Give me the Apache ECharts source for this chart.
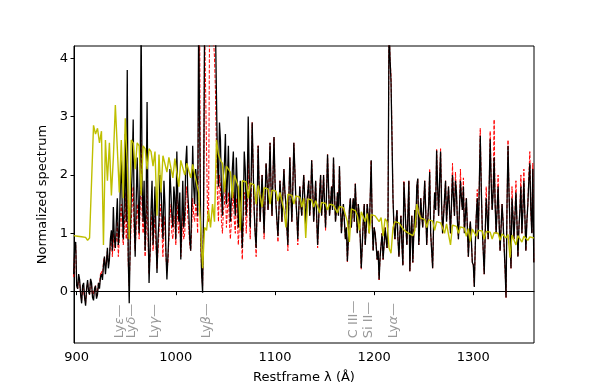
<!DOCTYPE html>
<html>
<head>
<meta charset="utf-8">
<script src="https://cdn.jsdelivr.net/npm/echarts@6/dist/echarts.min.js"></script>
<style>
    html, body {margin: 0; padding: 0; background: #fff;}
    #main {width: 594px; height: 389px;}
</style>
</head>
<body>
<div id="main"></div>
<script>
// wavelength grids (restframe, Angstrom)
var fluxStart = 897, fluxStep = 1;
var modelStart = 897, modelStep = 2;

// observed spectrum (black)
var flux = [
    0.3, 0.8, 0.85, 0.1, 0.05, 0.3, 0.2, -0.05, -0.2, 0.1,
    0.15, -0.1, -0.24, 0.05, 0.2, 0.0, -0.05, 0.22, 0.15, -0.1,
    -0.15, 0.05, 0.1, -0.12, -0.05, 0.15, 0.05, 0.25, 0.3, 0.2,
    0.45, 0.6, 0.3, 0.5, 0.75, 0.4, 0.55, 0.9, 1.05, 0.7,
    1.45, 0.9, 0.75, 1.2, 1.6, 0.8, 1.0, 1.8, 2.3, 1.4,
    0.9, 1.5, 2.7, 1.2, 3.8, 0.6, -0.2, 0.9, 1.6, 2.1,
    2.95, 1.3, 0.6, 1.5, 2.3, 1.6, 1.0, 2.0, 4.6, 1.8,
    1.2, 1.9, 0.7, 1.4, 3.25, 1.2, 0.15, 0.7, 1.4, 1.9,
    0.8, 1.3, 1.8, 1.0, 0.32, 0.9, 1.2, 2.0, 1.8, 1.3,
    0.9, 1.9, 1.5, 0.7, 0.21, 0.6, 1.0, 2.1, 1.7, 1.3,
    1.1, 1.8, 1.6, 0.9, 2.4, 1.6, 1.2, 1.7, 0.55, 1.2,
    1.9, 1.1, 1.3, 2.2, 2.5, 1.7, 1.4, 0.9, 0.7, 1.5,
    2.5, 1.8, 1.5, 2.1, 1.9, 1.3, 4.6, 4.6, 1.2, 0.3,
    -0.02, 1.5, 4.6, 5, 5, 5, 5, 5, 5, 5,
    5, 5, 4.6, 4.5, 3.3, 2.2, 1.8, 2.9, 2.6, 1.7,
    1.3, 2.0, 2.2, 2.7, 1.5, 1.9, 2.5, 1.7, 1.2, 1.6,
    2.1, 2.4, 1.6, 1.3, 2.3, 1.8, 1.1, 1.5, 1.9, 1.3,
    0.75, 1.4, 2.4, 2.1, 1.3, 1.8, 3.0, 2.0, 1.1, 2.0,
    2.9, 2.1, 1.4, 1.0, 0.75, 1.5, 2.5, 1.8, 1.2, 1.6,
    2.0, 1.5, 1.0, 1.6, 2.2, 1.9, 1.4, 1.9, 2.55, 1.8,
    1.3, 2.0, 2.65, 1.9, 1.5, 1.2, 0.95, 1.4, 1.9, 1.6,
    1.2, 1.7, 2.1, 1.7, 1.5, 1.1, 0.8, 1.6, 2.3, 1.7,
    1.2, 1.8, 2.55, 2.1, 1.6, 1.3, 0.9, 1.4, 1.8, 1.5,
    1.3, 1.7, 2.0, 1.6, 1.1, 1.5, 1.7, 1.9, 1.3, 1.6,
    2.25, 1.8, 1.2, 1.5, 1.9, 1.3, 0.8, 1.2, 1.7, 2.0,
    1.3, 1.6, 2.0, 1.5, 1.1, 1.7, 2.35, 1.8, 1.3, 1.5,
    1.8, 1.4, 2.3, 1.7, 1.2, 1.4, 1.7, 1.3, 2.15, 1.5,
    1.0, 1.3, 1.5, 1.2, 0.9, 1.1, 0.52, 0.9, 1.4, 1.6,
    1.1, 1.4, 1.6, 1.2, 1.85, 1.4, 1.0, 1.5, 1.3, 0.9,
    0.4, 0.8, 1.2, 1.5, 0.8, 1.1, 1.5, 1.3, 1.0, 1.6,
    2.25, 1.2, 0.7, 1.1, 1.0, 0.8, 0.55, 0.7, 0.21, 0.6,
    0.8, 1.0, 0.55, 0.8, 1.1, 0.9, 0.75, 1.3, 4.6, 4.0,
    3.6, 2.6, 1.6, 1.1, 0.9, 1.2, 1.4, 0.9, 0.6, 1.0,
    1.3, 0.8, 0.45, 1.88, 1.5, 1.1, 0.8, 1.3, 1.9, 0.35,
    1.0, 1.3, 0.5, 1.0, 1.4, 1.1, 1.8, 1.94, 0.8, 1.2,
    1.6, 1.3, 1.1, 1.5, 1.9, 1.4, 0.8, 1.2, 1.5, 2.05,
    1.0, 0.7, 0.4, 1.2, 1.7, 1.4, 2.42, 1.8, 1.3, 1.9,
    2.4, 1.5, 1.0, 1.3, 1.6, 1.9, 1.2, 1.5, 1.8, 1.4,
    1.0, 1.5, 2.0, 1.6, 1.3, 1.9, 1.7, 1.2, 0.9, 1.4,
    1.9, 1.6, 1.4, 1.8, 1.0, 1.3, 1.6, 1.1, 0.6, 1.0,
    1.2, 0.9, 0.5, 0.46, 0.08, 0.8, 1.3, 1.6, 0.9, 1.8,
    2.67, 1.8, 1.1, 0.7, 0.3, 1.0, 1.6, 1.3, 0.9, 1.8,
    2.61, 1.9, 1.4, 1.7, 2.3, 1.5, 1.0, 1.4, 1.8, 1.2,
    0.7, 1.1, 1.5, 1.2, 0.8, 0.4, -0.1, 1.5, 2.5, 1.7,
    1.1, 0.4, 1.6, 1.3, 0.9, 1.3, 1.7, 1.2, 0.6, 1.1,
    1.4, 1.8, 1.0, 1.4, 1.9, 1.3, 0.7, 1.2, 1.5, 1.9,
    2.2, 1.4, 1.0, 2.1, 0.5
];

// second spectrum (red dashed)
var fluxAlt = [
    0.25, 0.75, 0.8, 0.1, 0.05, 0.25, 0.15, -0.05, -0.15, 0.1,
    0.1, -0.1, -0.2, 0.05, 0.15, 0.0, -0.05, 0.2, 0.1, -0.1,
    -0.1, 0.05, 0.1, -0.1, 0.0, 0.15, 0.1, 0.3, 0.35, 0.25,
    0.5, 0.6, 0.4, 0.55, 0.7, 0.45, 0.6, 0.8, 0.9, 0.6,
    1.0, 0.7, 0.7, 0.9, 1.2, 0.6, 0.9, 1.3, 1.5, 1.0,
    0.8, 1.1, 1.7, 0.9, 2.2, 0.5, 0.1, 0.7, 1.2, 1.5,
    1.8, 1.0, 0.7, 1.1, 1.5, 1.2, 0.9, 1.4, 2.6, 1.3,
    1.0, 1.3, 0.6, 1.0, 1.9, 0.9, 0.3, 0.6, 1.1, 1.4,
    0.7, 1.0, 1.3, 0.8, 0.4, 0.7, 1.0, 1.5, 1.3, 1.0,
    0.6, 1.3, 1.1, 0.6, 0.35, 0.5, 0.9, 1.5, 1.3, 1.0,
    0.9, 1.3, 1.2, 0.8, 1.7, 1.2, 1.0, 1.3, 0.6, 0.9,
    1.4, 0.9, 1.0, 1.6, 1.8, 1.3, 1.1, 0.8, 0.7, 1.1,
    1.6, 1.3, 1.2, 1.5, 1.4, 1.0, 3.5, 4.6, 1.0, 0.3,
    0.1, 1.3, 4.6, 4.6, 4.6, 1.3, 1.2, 4.6, 4.6, 5,
    5, 5, 4.0, 3.4, 2.4, 1.6, 1.2, 2.0, 1.8, 1.2,
    1.0, 1.4, 1.5, 1.9, 1.1, 1.4, 1.7, 1.2, 0.9, 1.2,
    1.5, 1.7, 1.2, 1.0, 1.6, 1.3, 0.8, 1.1, 1.4, 1.0,
    0.55, 1.1, 1.7, 1.6, 1.0, 1.4, 2.4, 1.6, 0.9, 1.6,
    2.9, 2.1, 1.4, 1.0, 0.6, 1.5, 2.5, 1.8, 1.2, 1.6,
    2.0, 1.5, 0.9, 1.6, 2.2, 1.9, 1.4, 1.9, 2.55, 1.8,
    1.3, 2.0, 2.65, 1.9, 1.5, 1.2, 0.85, 1.4, 1.9, 1.6,
    1.2, 1.7, 2.1, 1.7, 1.5, 1.1, 0.7, 1.6, 2.3, 1.7,
    1.2, 1.8, 2.55, 2.1, 1.6, 1.3, 0.8, 1.4, 1.8, 1.5,
    1.3, 1.7, 2.0, 1.6, 1.1, 1.5, 1.7, 1.9, 1.3, 1.6,
    2.25, 1.8, 1.2, 1.5, 1.9, 1.3, 0.75, 1.2, 1.7, 2.0,
    1.3, 1.6, 2.0, 1.5, 1.05, 1.7, 2.35, 1.8, 1.3, 1.5,
    1.8, 1.4, 2.3, 1.7, 1.2, 1.4, 1.7, 1.3, 2.15, 1.5,
    1.0, 1.3, 1.5, 1.2, 0.9, 1.1, 0.5, 0.9, 1.4, 1.6,
    1.1, 1.4, 1.6, 1.2, 1.85, 1.4, 1.0, 1.5, 1.3, 0.9,
    0.38, 0.8, 1.2, 1.5, 0.8, 1.1, 1.5, 1.3, 1.0, 1.6,
    2.25, 1.2, 0.7, 1.1, 1.0, 0.8, 0.55, 0.7, 0.2, 0.6,
    0.8, 1.0, 0.55, 0.8, 1.1, 0.9, 0.75, 1.3, 4.6, 4.0,
    3.7, 2.7, 1.6, 1.1, 0.9, 1.2, 1.4, 0.9, 0.6, 1.0,
    1.3, 0.8, 0.45, 1.9, 1.5, 1.1, 0.8, 1.3, 1.9, 0.35,
    1.0, 1.3, 0.5, 1.0, 1.4, 1.1, 1.8, 1.94, 0.8, 1.2,
    1.6, 1.3, 1.1, 1.5, 1.9, 1.4, 0.8, 1.2, 1.5, 2.1,
    1.0, 0.7, 0.4, 1.2, 1.7, 1.4, 2.45, 1.8, 1.3, 1.9,
    2.45, 1.5, 1.0, 1.3, 1.6, 1.9, 1.2, 1.5, 1.8, 1.4,
    1.0, 1.5, 2.2, 1.6, 1.3, 2.05, 1.7, 1.2, 0.9, 1.4,
    2.1, 1.6, 1.4, 1.95, 1.0, 1.3, 1.6, 1.1, 0.6, 1.0,
    1.2, 0.9, 0.5, 0.46, 0.1, 0.8, 1.3, 1.75, 0.9, 1.8,
    2.8, 1.8, 1.1, 0.7, 0.3, 1.0, 1.8, 1.3, 0.9, 1.8,
    2.75, 1.9, 1.4, 1.7, 2.95, 1.5, 1.0, 1.4, 2.0, 1.2,
    0.7, 1.1, 1.5, 1.2, 0.8, 0.4, -0.1, 1.5, 2.6, 1.7,
    1.1, 0.4, 1.8, 1.3, 0.9, 1.3, 1.9, 1.2, 0.6, 1.1,
    1.4, 2.0, 1.0, 1.4, 2.1, 1.3, 0.7, 1.2, 1.5, 2.0,
    2.4, 1.4, 1.0, 2.2, 0.5
];

// model / template (yellow)
var model = [
    0.96, 0.95, 0.95, 0.94, 0.94, 0.93, 0.93, 0.88, 0.92, 0.92,
    2.85, 2.7, 2.8, 2.55, 2.75, 0.8, 2.6, 1.9, 2.55, 1.65,
    2.3, 3.2, 2.45, 1.7, 2.6, 1.6, 2.97, 2.2, 0.9, 2.6,
    2.55, 2.1, 2.55, 2.5, 1.65, 2.5, 2.45, 2.1, 2.45, 2.4,
    2.15, 2.4, 1.3, 2.35, 1.7, 2.33, 2.3, 2.05, 2.3, 2.3,
    1.95, 2.28, 2.27, 1.8, 2.25, 2.23, 2.0, 2.2, 2.2, 1.95,
    2.18, 2.16, 1.85, 1.7, 1.1, 0.4, 1.1, 1.05, 1.4, 1.1,
    1.5, 1.2, 2.6, 2.35, 2.25, 2.2, 1.7, 2.15, 2.1, 2.05,
    1.6, 2.0, 1.97, 1.8, 1.05, 1.9, 1.9, 1.88, 1.6, 1.86,
    1.85, 1.83, 1.5, 1.82, 1.8, 1.45, 1.78, 1.77, 1.76, 1.5,
    1.74, 1.73, 1.72, 1.55, 1.7, 1.69, 1.4, 1.1, 1.67, 1.66,
    1.65, 1.5, 1.64, 1.63, 1.62, 1.45, 1.6, 0.92, 1.59, 1.58,
    1.57, 1.45, 1.56, 1.55, 1.35, 1.53, 1.52, 1.51, 1.4, 1.5,
    1.49, 1.48, 1.47, 1.35, 1.46, 1.45, 1.44, 1.43, 1.2, 0.85,
    1.42, 1.4, 1.39, 1.3, 1.05, 1.37, 1.36, 1.2, 1.34, 1.0,
    1.32, 1.31, 1.3, 1.29, 1.2, 1.27, 0.95, 1.25, 1.2, 0.75,
    0.66, 1.1, 1.2, 1.19, 1.18, 1.15, 1.08, 1.04, 1.03, 1.0,
    0.97, 0.96, 1.05, 1.5, 1.35, 1.26, 1.25, 1.24, 1.1, 1.23,
    1.22, 1.21, 1.05, 1.2, 1.19, 1.18, 1.17, 1.0, 1.16, 1.15,
    0.8, 1.14, 1.13, 1.12, 1.0, 1.11, 1.1, 1.09, 0.95, 1.08,
    0.86, 1.07, 1.06, 0.95, 1.05, 1.04, 1.04, 0.9, 1.03, 1.02,
    1.02, 0.9, 1.01, 1.0, 1.0, 0.88, 0.99, 0.98, 0.92, 0.98,
    0.58, 0.97, 0.97, 0.8, 0.96, 0.96, 0.85, 0.95, 0.95, 0.88,
    0.94, 0.94, 0.92
];

// line identifications
var lineNames = ['Ly{g|ε}—', 'Ly{g|δ}—', 'Ly{g|γ}—', 'Ly{g|β}—', 'C III—', 'Si II—', 'Ly{g|α}—'];
var lineWaves = [943.7, 955.5, 979.0, 1031.1, 1179.0, 1194.1, 1219.3];
var lineLabelY = -0.8;

var xTicks = [900, 1000, 1100, 1200, 1300];
var yTicks = [0, 1, 2, 3, 4];

function pairs(arr, start, step) {
    return arr.map(function (v, i) {
        return [start + i * step, v];
    });
}

var font = 'DejaVu Sans';

var myChart = echarts.init(document.getElementById('main'), null, {renderer: 'canvas'});
var option = {
    animation: false,
    backgroundColor: '#fff',
    grid: {
        left: 74,
        right: 60,
        top: 46,
        bottom: 43,
        show: true,
        borderColor: '#000',
        borderWidth: 1
    },
    xAxis: {
        type: 'value',
        min: 897.3,
        max: 1361.2,
        name: 'Restframe λ (Å)',
        nameLocation: 'middle',
        nameGap: 28,
        nameTextStyle: {color: '#000', fontSize: 13, fontFamily: font},
        axisLine: {lineStyle: {color: '#000', width: 1}},
        axisTick: {inside: false, length: 3.5, lineStyle: {color: '#000'}, customValues: xTicks},
        axisLabel: {
            color: '#000', fontSize: 13, fontFamily: font, margin: 8, customValues: xTicks,
            formatter: function (v) { return String(v); }
        },
        splitLine: {show: false}
    },
    yAxis: {
        type: 'value',
        min: -0.88,
        max: 4.21,
        name: 'Normalized spectrum',
        nameLocation: 'middle',
        nameGap: 20,
        nameTextStyle: {color: '#000', fontSize: 13, fontFamily: font},
        axisLine: {show: true, lineStyle: {color: '#000', width: 1}},
        axisTick: {show: true, inside: false, length: 3.5, lineStyle: {color: '#000'}, customValues: yTicks},
        axisLabel: {color: '#000', fontSize: 13, fontFamily: font, margin: 6, customValues: yTicks},
        splitLine: {show: false}
    },
    series: [
        {
            name: 'alt',
            type: 'line',
            data: pairs(fluxAlt, fluxStart, fluxStep),
            symbol: 'none',
            clip: true,
            lineStyle: {color: '#ff0000', width: 1, type: [3.7, 1.6]},
            z: 2
        },
        {
            name: 'flux',
            type: 'line',
            data: pairs(flux, fluxStart, fluxStep),
            symbol: 'none',
            clip: true,
            lineStyle: {color: '#000', width: 1.3},
            z: 3
        },
        {
            name: 'model',
            type: 'line',
            data: pairs(model, modelStart, modelStep),
            symbol: 'none',
            clip: true,
            lineStyle: {color: '#bfbf00', width: 1.4},
            z: 4
        },
        {
            name: 'lines',
            type: 'scatter',
            symbolSize: 0,
            silent: true,
            z: 5,
            data: lineWaves.map(function (w, i) {
                return {value: [w, lineLabelY], name: lineNames[i]};
            }),
            label: {
                show: true,
                position: 'inside',
                align: 'left',
                verticalAlign: 'middle',
                rotate: 90,
                color: '#808080',
                fontSize: 13,
                fontFamily: font,
                formatter: function (p) { return p.name; },
                rich: {
                    g: {fontStyle: 'italic', color: '#808080', fontSize: 13, fontFamily: font}
                }
            }
        }
    ]
};
myChart.setOption(option);
</script>
</body>
</html>
